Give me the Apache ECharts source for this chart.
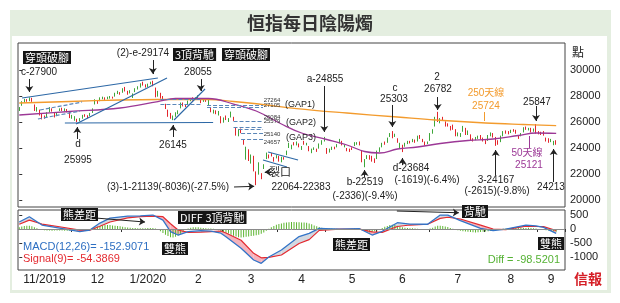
<!DOCTYPE html>
<html>
<head>
<meta charset="utf-8">
<script src="https://cdn.jsdelivr.net/npm/echarts@6/dist/echarts.min.js"></script>
<style>
  html, body { margin: 0; padding: 0; background: #fff; }
  #c { width: 620px; height: 303px; }
</style>
</head>
<body>
<div id="c"></div>
<script>
// HK trading days per month, Nov 2019 - Sep 2020 (last Sep days are empty slots)
const monthDays = [
  ['2019-11', [1,4,5,6,7,8,11,12,13,14,15,18,19,20,21,22,25,26,27,28,29]],
  ['2019-12', [2,3,4,5,6,9,10,11,12,13,16,17,18,19,20,23,24,27,30,31]],
  ['2020-01', [2,3,6,7,8,9,10,13,14,15,16,17,20,21,22,23,24,29,30,31]],
  ['2020-02', [3,4,5,6,7,10,11,12,13,14,17,18,19,20,21,24,25,26,27,28]],
  ['2020-03', [2,3,4,5,6,9,10,11,12,13,16,17,18,19,20,23,24,25,26,27,30,31]],
  ['2020-04', [1,2,3,6,7,8,9,14,15,16,17,20,21,22,23,24,27,28,29]],
  ['2020-05', [4,5,6,7,8,11,12,13,14,15,18,19,20,21,22,25,26,27,28,29]],
  ['2020-06', [1,2,3,4,5,8,9,10,11,12,15,16,17,18,19,22,23,24,26,29,30]],
  ['2020-07', [2,3,6,7,8,9,10,13,14,15,16,17,20,21,22,23,24,27,28,29,30,31]],
  ['2020-08', [3,4,5,6,7,10,11,12,13,14,17,18,19,20,21,24,25,26,27,28,31]],
  ['2020-09', [1,2,3,4,7,8,9,10,11,14,15]]
];
const monthLabels = ['11/2019', '12', '1/2020', '2', '3', '4', '5', '6', '7', '8', '9'];

// daily candles: [open, close, low, high]
const ohlc = [
  // Nov 2019
  [26950,27101,26850,27150],[27300,27547,27250,27600],[27600,27683,27500,27780],[27720,27688,27560,27760],
  [27650,27847,27600,27900],[27800,27651,27550,27860],[27300,26926,26850,27350],[26950,27065,26800,27150],
  [26900,26571,26500,26950],[26600,26323,26200,26650],[26400,26326,26250,26500],[26400,26681,26350,26750],
  [26800,27093,26750,27150],[27000,26889,26800,27050],[26700,26466,26350,26750],[26550,26595,26450,26700],
  [26900,26993,26850,27050],[27050,26913,26850,27100],[26900,26954,26800,27050],[26950,26894,26750,27000],
  [26800,26346,26300,26850],
  // Dec
  [26400,26444,26250,26550],[26350,26391,26100,26450],[26150,26062,25995,26250],[26150,26218,26050,26300],
  [26300,26498,26250,26550],[26500,26494,26400,26600],[26480,26436,26300,26520],[26500,26645,26450,26700],
  [26750,26994,26700,27050],[27400,27688,27350,27750],[27600,27508,27400,27650],[27650,27843,27600,27900],
  [27850,27884,27750,27950],[27850,27800,27700,27900],[27800,27871,27750,27950],[27900,27906,27800,28000],
  [27920,27864,27800,27950],[28000,28225,27950,28250],[28300,28319,28150,28400],[28250,28190,28100,28300],
  // Jan 2020
  [28300,28543,28250,28600],[28600,28452,28350,28700],[28300,28226,28100,28400],[28250,28322,28200,28450],
  [28000,28087,27850,28200],[28350,28561,28300,28600],[28600,28638,28500,28750],[28700,28954,28650,28980],
  [29000,28885,28800,29100],[28850,28773,28650,28900],[28800,28883,28700,28950],[28950,29056,28900,29100],
  [29150,28795,28750,29174],[28600,27985,27900,28650],[28050,28341,27950,28400],[28200,27909,27800,28250],
  [27950,27949,27750,28000],[27300,27160,27000,27400],[26900,26449,26400,26950],[26600,26313,26250,26700],
  // Feb
  [26300,26356,26145,26500],[26500,26675,26400,26750],[26700,26786,26600,26900],[27100,27493,27050,27500],
  [27450,27404,27200,27500],[27300,27241,27150,27350],[27400,27583,27350,27650],[27650,27823,27600,27850],
  [27800,27730,27650,27900],[27800,27816,27700,27900],[27880,27960,27820,28055],[27750,27530,27450,27800],
  [27600,27656,27550,27750],[27700,27655,27550,27800],[27550,27609,27264,27700],[27000,26820,26750,27105],
  [26700,26893,26650,26950],[26800,26696,26600,26900],[26700,26778,26500,26850],[26400,26129,25900,26450],
  // Mar
  [26100,26291,25950,26350],[26400,26284,26150,26500],[26100,26222,26000,26300],[26400,26767,26350,26800],
  [26300,26146,26084,26400],[25450,25040,24950,25579],[25100,25392,24900,25450],[25400,25231,25140,25500],
  [24600,24309,24250,24657],[23150,24032,23100,24100],[23700,23064,23000,23900],[23000,23263,22800,23500],
  [23300,22291,22200,23400],[22100,21709,21139,22200],[22000,22805,21950,22900],[22000,21696,21600,22064],
  [22400,22663,22383,22750],[23200,23527,23150,23650],[23400,23352,23200,23500],[23580,23484,23350,23620],
  [23250,23175,22950,23300],[23250,23420,23200,23450],
  // Apr
  [23350,23085,22950,23400],[23000,23280,22900,23330],[23250,23236,23100,23300],[23500,23749,23450,23800],
  [24100,24253,24000,24400],[24100,24204,23900,24250],[24350,24300,24200,24450],[24300,24435,24200,24500],
  [24300,24146,24050,24350],[24000,24053,23850,24150],[24400,24380,24250,24550],[24300,24330,24200,24400],
  [24100,23793,23750,24150],[23700,23893,23600,23950],[23950,23977,23850,24050],[23900,23831,23700,23950],
  [24000,24280,23950,24350],[24350,24575,24250,24600],[24600,24643,24500,24855],
  // May
  [23900,23613,23550,24000],[23700,23868,23650,23950],[23950,24000,23850,24100],[24050,23997,23900,24100],
  [24100,24230,24050,24300],[24400,24602,24350,24700],[24500,24245,24200,24550],[24100,24180,24050,24250],
  [23950,23830,23750,24000],[23900,23797,23700,23950],[23950,23934,23850,24050],[24200,24388,24150,24450],
  [24350,24399,24250,24450],[24450,24280,24200,24500],[23800,22930,22900,23850],[23000,23052,22519,23150],
  [23200,23384,23150,23450],[23350,23301,23100,23450],[23300,23132,22950,23400],[23100,22961,22850,23200],
  // Jun
  [23200,23732,23150,23800],[23800,23996,23700,24050],[24100,24325,24050,24400],[24400,24366,24250,24500],
  [24450,24770,24400,24800],[24900,25057,24850,25150],[25200,24776,24750,25303],[24950,25049,24850,25100],
  [24700,24480,24400,24750],[24100,24301,24000,24400],[24200,23777,23684,24250],[24200,24344,24100,24400],
  [24400,24481,24300,24550],[24500,24465,24350,24550],[24500,24644,24450,24700],[24600,24511,24400,24650],
  [24550,24907,24500,24950],[24900,24782,24700,25000],[24600,24549,24450,24700],[24400,24301,24200,24500],
  [24350,24427,24300,24500],
  // Jul
  [24600,25124,24550,25150],[25200,25373,25100,25450],[25700,26339,25650,26400],[26650,26129,26000,26782],
  [26000,26239,25900,26300],[26300,26211,26100,26400],[26000,25727,25650,26050],[25800,25772,25650,25900],
  [25600,25477,25350,25700],[25700,25481,25400,25800],[25400,24970,24900,25450],[25000,25089,24900,25200],
  [25000,25058,24850,25150],[25300,25635,25250,25700],[25500,25057,25000,25550],[25100,25263,25000,25350],
  [25000,24705,24600,25050],[24700,24603,24500,24750],[24700,24772,24600,24850],[24800,24883,24700,24950],
  [24900,24710,24650,25000],[24700,24595,24500,24800],
  // Aug
  [24500,24458,24300,24600],[24600,24946,24550,25000],[25000,25102,24900,25200],[25050,24930,24800,25150],
  [24800,24532,24167,24850],[24500,24377,24250,24600],[24500,24890,24450,24950],[24950,25244,24900,25300],
  [25300,25230,25100,25350],[25250,25183,25050,25300],[25200,25347,25150,25400],[25400,25367,25250,25450],
  [25300,25178,25100,25400],[24900,24791,24700,25000],[24950,25113,24900,25150],[25250,25551,25200,25600],
  [25550,25486,25400,25650],[25450,25491,25350,25550],[25500,25281,25200,25550],[25300,25422,25250,25500],
  [25550,25177,25100,25847],
  // Sep
  [25200,25184,25050,25300],[25150,25120,25000,25250],[25200,25007,24950,25300],[24700,24695,24500,24800],
  [24700,24589,24400,24750],[24500,24624,24450,24700],[24400,24468,24213,24550],[24550,24313,24250,24600]
];

// moving averages at day indexes
const ma250Idx = [0, 20, 40, 55, 75, 85, 95, 110, 130, 150, 165, 185, 200, 213];
const ma250Val = [27462, 27577, 27692, 27731, 27731, 27577, 27385, 27038, 26692, 26385, 26154, 25923, 25808, 25724];
const ma50Idx = [0, 20, 40, 55, 62, 75, 85, 94, 104, 112, 122, 130, 137, 143, 150, 158, 167, 178, 188, 198, 205, 213];
const ma50Val = [26538, 26808, 27077, 27577, 27808, 27808, 27385, 26846, 25846, 25154, 24654, 24231, 23731, 23615,
                 23923, 24077, 24346, 24577, 24692, 24962, 25154, 25121];

// MACD(12,26) and Signal(9) at day indexes
const macdIdx = [0, 4, 9, 16, 24, 28, 32, 36, 43, 48, 53, 57, 60, 63, 67, 72, 76, 80, 82, 88, 93, 96, 99, 104,
                 111, 115, 119, 127, 135, 140, 144, 150, 155, 162, 167, 170, 175, 183, 188, 193, 201, 205, 208, 213];
const diffVal = [250, 440, 143, 36, -96, -36, 214, 390, 464, 470, 500, 321, -96, -214, -96, -60, -75, -150, -274,
                 -690, -1107, -1226, -1000, -750, -270, -155, 24, 0, 10, -214, -80, 226, 178, 170, 500, 500, 298,
                 24, -60, 0, 143, 110, 60, -153];
const deaVal = [170, 320, 178, 82, -36, -45, 100, 250, 400, 440, 464, 440, 190, -36, -120, -110, -90, -70, -140,
                -400, -869, -1030, -1010, -929, -515, -380, -50, -5, -5, -100, -120, 90, 143, 170, 380, 420, 358,
                139, 0, -20, 103, 90, 85, -54];
// daily Diff histogram
const hist = [
  60, 90, 110, 120, 115, 95, 60, 25,
  -15, -30, -45, -50, -55, -60, -55, -50, -50, -55, -60, -65, -65, -60, -55, -50, -45, -35, -25, -10, 5,
  30, 60, 90, 110, 130, 140, 145, 140, 130, 120, 110, 95, 80, 65, 55, 45, 40, 35, 30, 28, 25, 30, 35, 38, 36, 20,
  -30, -80, -140, -200, -250, -290, -300, -280, -230, -170, -100, -30,
  20, 50, 60, 65, 60, 50, 40, 30, 20, 15, 10,
  -10, -40, -80, -110, -130, -160, -200, -240, -270, -290, -300, -295, -280, -270, -250, -240, -220, -200, -170, -120, -60,
  10, 60, 110, 150, 180, 200, 220, 235, 245, 250, 250, 245, 240, 235, 230, 220, 200, 170, 130, 100,
  70, 50, 35, 25, 20, 15, 10, 8, 5, 3, 0, -5, 0, 10, 20, 15, 5, -20, -60, -100,
  -120, -110, -80, -40, 0, 40, 80, 110, 140,
  150, 140, 120, 90, 60, 45, 35, 30, 25, 20, 10, 5, 0, -5, 0,
  20, 50, 90, 120, 120, 110, 90, 70, 40, 10,
  -20, -40, -60, -80, -90, -100, -110, -115, -120, -115, -110, -100, -90, -80, -70, -60, -40, -20,
  0, 10, 20, 30, 40, 45, 50, 50, 45, 40, 40, 45, 40, 30, 20,
  5, -10, -25, -40, -55, -70, -85, -98.5
];

const priceTicks = [20000, 22000, 24000, 26000, 28000, 30000];
const macdTicks = [-1000, -500, 0, 500];

// chart annotations in [dayIndex, price]
const trendLines = [
  [1.1, 27846, 55, 29385], [22.5, 25846, 58.6, 29385], [18.1, 25923, 76.9, 25962],
  [61.4, 26154, 73.7, 28538], [98.7, 23692, 110.6, 23077], [96.7, 23077, 106.2, 22538]
];
const gapLines = [
  [8.2, 26923, 24.9, 27538], [7.4, 26231, 24.1, 26846],
  [56, 27750, 72, 27750], [56, 27400, 72, 27400],
  [74.5, 27264, 96.7, 27264], [74.5, 27105, 96.7, 27105],
  [85, 26084, 96.7, 26084], [85, 25579, 96.7, 25579],
  [87, 25450, 96.7, 25450], [88, 25140, 96.7, 25140], [88, 24657, 96.7, 24657]
];
const arrows = [
  [4, 29308, 4, 28308], [53, 30769, 53, 29692], [72, 29308, 72, 28385], [23, 24692, 23, 25615],
  [61, 24846, 61, 25769], [85.2, 21000, 93.2, 21050], [99.9, 22154, 97.4, 22154], [121, 28769, 121, 25231],
  [137, 21769, 137, 22308], [148, 27308, 148, 25615], [152, 22692, 152, 23231], [166, 27923, 166, 26923],
  [205, 27231, 205, 26077], [189, 21923, 189, 23846], [212, 21385, 212, 23923]
];
const ma250Pointer = [184.6, 26769, 184.6, 26077];
const ma50Pointer = [202.5, 24000, 202.5, 24923];
const macdArrows = [[30.4, 393, 49.9, 250], [149.8, 643, 174.4, 582]];

// ---- build ----
const dates = [], monthStart = [], labelAt = {};
monthDays.forEach(([m, days], k) => {
  monthStart.push(dates.length);
  labelAt[dates.length + Math.floor(days.length / 2)] = monthLabels[k];
  days.forEach(d => dates.push(m + '-' + String(d).padStart(2, '0')));
});
const N = dates.length;

const COL = {
  up: '#3fa63a', down: '#e3262c', trend: '#2d68a6', gap: '#5a86b8',
  ma250: '#f39b2d', ma50: '#9c3896', diff: '#3274c8', dea: '#e42a30', hist: '#5db531',
  bear: '#f5b3bb', bull: '#d3d8e0'
};
const FONT = '"Liberation Sans", Arial, sans-serif';
const CJK = '"Noto Sans CJK TC", sans-serif';

const pair = (l) => [{ coord: [l[0], l[1]] }, { coord: [l[2], l[3]] }];
const zip = (xs, ys) => xs.map((x, k) => [x, ys[k]]);

// shaded band between MACD and signal, one polygon per knot segment (split where they cross)
function renderGap(params, api) {
  const k = api.value(0);
  const x0 = macdIdx[k], x1 = macdIdx[k + 1];
  const d0 = diffVal[k], d1 = diffVal[k + 1], s0 = deaVal[k], s1 = deaVal[k + 1];
  const g0 = d0 - s0, g1 = d1 - s1;
  const parts = [];
  if (g0 * g1 < 0) {
    const t = g0 / (g0 - g1);
    const xc = x0 + t * (x1 - x0), yc = d0 + t * (d1 - d0);
    parts.push({ pts: [[x0, d0], [xc, yc], [x0, s0]], up: g0 > 0 });
    parts.push({ pts: [[xc, yc], [x1, d1], [x1, s1]], up: g1 > 0 });
  } else {
    parts.push({ pts: [[x0, d0], [x1, d1], [x1, s1], [x0, s0]], up: g0 + g1 > 0 });
  }
  return {
    type: 'group',
    children: parts.map(p => ({
      type: 'polygon', shape: { points: p.pts.map(q => api.coord(q)) },
      style: { fill: p.up ? COL.bull : COL.bear }
    }))
  };
}

function markerSeries(xi, yi, lines, style, arrow) {
  return {
    type: 'line', xAxisIndex: xi, yAxisIndex: yi, data: [], silent: true,
    markLine: {
      silent: true, animation: false,
      symbol: arrow ? ['none', 'arrow'] : ['none', 'none'], symbolSize: 6,
      label: { show: false }, emphasis: { disabled: true },
      lineStyle: style,
      data: lines.map(pair)
    }
  };
}

function note(x, y, text, color, size) {
  return {
    type: 'text', x, y, z: 100, silent: true,
    style: { text, fill: color || '#222', font: (size || 10) + 'px ' + FONT + ', ' + CJK,
             align: 'center', verticalAlign: 'middle' }
  };
}
function tag(x, y, text) {
  return {
    type: 'text', x, y, z: 100, silent: true,
    style: { text, fill: '#fff', font: '11px ' + CJK, backgroundColor: '#151515',
             padding: [1, 2, 0, 2], lineHeight: 12, align: 'left', verticalAlign: 'top' }
  };
}

const graphics = [
  { type: 'rect', z: -10, silent: true, shape: { x: 10, y: 10, width: 601, height: 283 }, style: { fill: '#e4eee0' } },
  { type: 'rect', z: -9, silent: true, shape: { x: 12, y: 36, width: 595, height: 254 }, style: { fill: '#ffffff' } },
  { type: 'text', x: 310, y: 23, z: 100, silent: true,
    style: { text: '恒指每日陰陽燭', fill: '#333', font: 'bold 18px ' + CJK, align: 'center', verticalAlign: 'middle' } },
  { type: 'text', x: 578, y: 52, z: 100, silent: true,
    style: { text: '點', fill: '#222', font: '12px ' + CJK, align: 'center', verticalAlign: 'middle' } },
  { type: 'text', x: 588, y: 279, z: 100, silent: true,
    style: { text: '信報', fill: '#d51d25', font: 'bold 14px ' + CJK, align: 'center', verticalAlign: 'middle' } },

  note(39, 72, 'c-27900'), note(143, 53, '(2)-e-29174'), note(198, 72, '28055'),
  note(78, 144, 'd'), note(78, 160, '25995'), note(173, 145, '26145'),
  note(168, 187, '(3)-1-21139(-8036)(-27.5%)'),
  note(280, 173, '裂口', '#222', 11), note(301, 187, '22064-22383'),
  note(325, 79, 'a-24855'), note(365, 182, 'b-22519'), note(365, 196, '(-2336)(-9.4%)'),
  note(395, 88, 'c'), note(394, 99, '25303'),
  note(411, 168, 'd-23684'), note(427, 180, '(-1619)(-6.4%)'),
  note(437, 77, '2'), note(438, 89, '26782'),
  note(486, 93, '250天線', COL.ma250), note(486, 106, '25724', COL.ma250),
  note(537, 102, '25847'),
  note(496, 180, '3-24167'), note(497, 191, '(-2615)(-9.8%)'),
  note(527, 153, '50天線', COL.ma50), note(529, 165, '25121', COL.ma50),
  note(551, 187, '24213'),

  note(272, 100, '27264', '#333', 6), note(272, 105, '27105', '#333', 6), note(300, 105, '(GAP1)', '#222', 9),
  note(272, 117, '26084', '#333', 6), note(272, 121, '25579', '#333', 6), note(301, 123, '(GAP2)', '#222', 9),
  note(272, 134, '25140', '#333', 6), note(272, 142, '24657', '#333', 6), note(301, 138, '(GAP3)', '#222', 9),

  tag(23, 51, '穿頭破腳'), tag(173, 48, '3頂背馳'), tag(222, 48, '穿頭破腳'),
  tag(61, 208, '熊差距'), tag(178, 211, 'DIFF 3頂背馳'), tag(162, 242, '雙熊'),
  tag(333, 238, '熊差距'), tag(462, 205, '背馳'), tag(538, 237, '雙熊'),

  { type: 'text', x: 23, y: 247, z: 100, silent: true,
    style: { text: 'MACD(12,26)= -152.9071', fill: '#2e6fc2', font: '11px ' + FONT, align: 'left', verticalAlign: 'middle' } },
  { type: 'text', x: 23, y: 259, z: 100, silent: true,
    style: { text: 'Signal(9)= -54.3869', fill: '#e42a30', font: '11px ' + FONT, align: 'left', verticalAlign: 'middle' } },
  { type: 'text', x: 560, y: 260, z: 100, silent: true,
    style: { text: 'Diff = -98.5201', fill: '#55b234', font: '11px ' + FONT, align: 'right', verticalAlign: 'middle' } }
];

const option = {
  animation: false,
  backgroundColor: '#fff',
  textStyle: { fontFamily: FONT },
  grid: [
    { left: 18, top: 43, width: 547, height: 164, show: true, borderColor: '#444', borderWidth: 1 },
    { left: 18, top: 210, width: 547, height: 60, show: true, borderColor: '#444', borderWidth: 1 }
  ],
  xAxis: [
    { type: 'category', gridIndex: 0, data: dates, boundaryGap: true, show: false },
    { type: 'value', gridIndex: 0, min: -0.5, max: N - 0.5, show: false },
    { type: 'category', gridIndex: 1, data: dates, boundaryGap: true,
      axisLine: { show: false },
      axisTick: { show: true, length: 3, interval: (i) => i > 0 && monthStart.includes(i), lineStyle: { color: '#333' } },
      axisLabel: { interval: (i) => labelAt[i] !== undefined, formatter: (v, i) => labelAt[i] || '',
                   margin: 4, fontSize: 12, color: '#222', fontFamily: FONT } },
    { type: 'value', gridIndex: 1, min: -0.5, max: N - 0.5, show: false }
  ],
  yAxis: [
    { type: 'value', gridIndex: 0, position: 'right', min: 19460, max: 32080,
      splitLine: { show: false }, axisLine: { show: false },
      axisTick: { show: true, length: 3, customValues: priceTicks, lineStyle: { color: '#333' } },
      axisLabel: { customValues: priceTicks, formatter: (v) => String(v), margin: 5, fontSize: 11, color: '#222', fontFamily: FONT } },
    { type: 'value', gridIndex: 1, position: 'right', min: -1464, max: 680,
      splitLine: { show: false }, axisLine: { show: false },
      axisTick: { show: true, length: 3, customValues: macdTicks, lineStyle: { color: '#333' } },
      axisLabel: { customValues: macdTicks, formatter: (v) => String(v), margin: 5, fontSize: 11, color: '#222', fontFamily: FONT } }
  ],
  series: [
    { type: 'candlestick', xAxisIndex: 0, yAxisIndex: 0, data: ohlc, barWidth: 1.2,
      itemStyle: { color: COL.up, color0: COL.down, borderColor: COL.up, borderColor0: COL.down, borderWidth: 1 } },
    { type: 'line', xAxisIndex: 1, yAxisIndex: 0, data: zip(ma250Idx, ma250Val), smooth: 0.4,
      symbol: 'none', lineStyle: { color: COL.ma250, width: 1.3 } },
    { type: 'line', xAxisIndex: 1, yAxisIndex: 0, data: zip(ma50Idx, ma50Val), smooth: 0.4,
      symbol: 'none', lineStyle: { color: COL.ma50, width: 1.3 } },
    markerSeries(1, 0, trendLines, { color: COL.trend, width: 1.2, type: 'solid' }, false),
    markerSeries(1, 0, gapLines, { color: COL.gap, width: 1.2, type: [4, 2] }, false),
    markerSeries(1, 0, arrows, { color: '#222', width: 1, type: 'solid' }, true),
    markerSeries(1, 0, [ma250Pointer], { color: COL.ma250, width: 1, type: 'solid' }, false),
    markerSeries(1, 0, [ma50Pointer], { color: COL.ma50, width: 1, type: 'solid' }, false),

    { type: 'custom', xAxisIndex: 3, yAxisIndex: 1, silent: true,
      data: macdIdx.slice(0, -1).map((x, k) => [k, 0]),
      encode: { x: 0, y: 1 }, renderItem: renderGap },
    { type: 'bar', xAxisIndex: 2, yAxisIndex: 1, data: hist, barWidth: 1, z: 3,
      itemStyle: { color: COL.hist },
      markLine: { silent: true, symbol: ['none', 'none'], label: { show: false },
                  lineStyle: { color: '#8a8a8a', width: 1, type: 'solid' }, data: [{ yAxis: 0 }] } },
    { type: 'line', xAxisIndex: 3, yAxisIndex: 1, data: zip(macdIdx, deaVal), z: 4,
      symbol: 'none', lineStyle: { color: COL.dea, width: 1.2 } },
    { type: 'line', xAxisIndex: 3, yAxisIndex: 1, data: zip(macdIdx, diffVal), z: 4,
      symbol: 'none', lineStyle: { color: COL.diff, width: 1.3 } },
    markerSeries(3, 1, macdArrows, { color: '#222', width: 1, type: 'solid' }, true)
  ],
  graphic: graphics
};

const chart = echarts.init(document.getElementById('c'));
chart.setOption(option);
</script>
</body>
</html>
